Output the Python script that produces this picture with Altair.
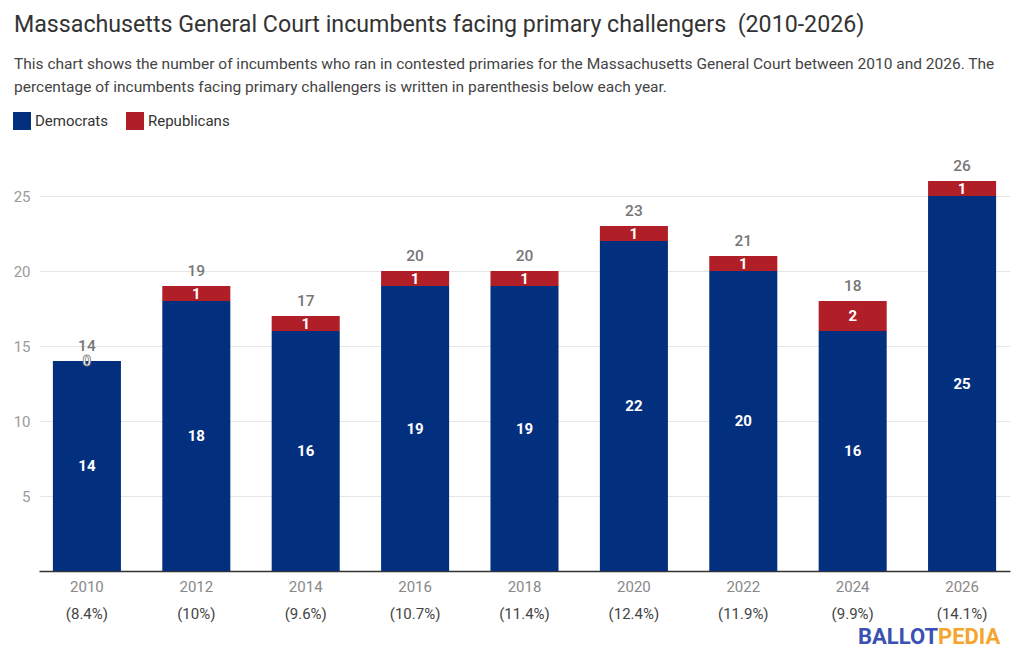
import altair as alt
import pandas as pd

years = ["2010", "2012", "2014", "2016", "2018", "2020", "2022", "2024", "2026"]
dems = [14, 18, 16, 19, 19, 22, 20, 16, 25]
reps = [0, 1, 1, 1, 1, 1, 1, 2, 1]
totals = [14, 19, 17, 20, 20, 23, 21, 18, 26]
pcts = ["(8.4%)", "(10%)", "(9.6%)", "(10.7%)", "(11.4%)", "(12.4%)", "(11.9%)", "(9.9%)", "(14.1%)"]
parties = ["Democrats", "Republicans"]
colors = ["#03307e", "#b01e28"]

title_text = "Massachusetts General Court incumbents facing primary challengers \u00a0(2010-2026)"
subtitle_lines = [
    "This chart shows the number of incumbents who ran in contested primaries for the Massachusetts General Court between 2010 and 2026. The",
    "percentage of incumbents facing primary challengers is written in parenthesis below each year.",
]

wide = pd.DataFrame({"year": years, "dem": dems, "rep": reps, "total": totals, "pct": pcts})
long = pd.DataFrame({
    "year": years * 2,
    "party": [parties[0]] * len(years) + [parties[1]] * len(years),
    "value": dems + reps,
    "ord": [0] * len(years) + [1] * len(years),
})

FONT = "Roboto"

x_enc = alt.X(
    "year:N",
    sort=years,
    scale=alt.Scale(paddingInner=0.378, paddingOuter=0.127),
    axis=alt.Axis(
        title=None, labelAngle=0, ticks=False, domainColor="#333333", domainWidth=1.5,
        labelColor="#888888", labelFontSize=15, labelPadding=8, labelFont=FONT,
    ),
)

bars = alt.Chart(long).mark_bar().encode(
    x=x_enc,
    y=alt.Y(
        "value:Q",
        stack="zero",
        scale=alt.Scale(domain=[0, 28], nice=False),
        axis=alt.Axis(
            title=None, values=[5, 10, 15, 20, 25], domain=False, ticks=False,
            gridColor="#e6e6e6", labelColor="#9a9a9a", labelFontSize=15, labelPadding=9,
            labelFont=FONT,
        ),
    ),
    color=alt.Color(
        "party:N",
        scale=alt.Scale(domain=parties, range=colors),
        legend=alt.Legend(
            title=None, orient="none", legendX=-26, legendY=-39, direction="horizontal",
            symbolType="square", symbolSize=324, symbolStrokeWidth=0, symbolOpacity=1,
            labelFontSize=15, labelColor="#333333", labelFont=FONT, labelOffset=4,
            columnPadding=18, padding=0,
        ),
    ),
    order=alt.Order("ord:Q", sort="ascending"),
)

base = alt.Chart(wide)

dem_labels = base.transform_calculate(mid="datum.dem / 2").mark_text(
    color="white", fontWeight="bold", fontSize=15, font=FONT, baseline="middle"
).encode(x=alt.X("year:N", sort=years), y="mid:Q", text="dem:Q")

rep_labels = base.transform_calculate(mid="datum.dem + datum.rep / 2").mark_text(
    color="white", fontWeight="bold", fontSize=15, font=FONT, baseline="middle", stroke="#777777"
).encode(
    x=alt.X("year:N", sort=years),
    y="mid:Q",
    text="rep:Q",
    strokeWidth=alt.condition("datum.rep == 0", alt.value(0.8), alt.value(0)),
)

total_labels = base.mark_text(
    color="#777777", fontSize=15.5, font=FONT, fontWeight=500, baseline="bottom", dy=-7
).encode(x=alt.X("year:N", sort=years), y="total:Q", text="total:Q")

pct_labels = base.mark_text(
    color="#444444", fontSize=15, font=FONT, baseline="middle"
).encode(x=alt.X("year:N", sort=years), y=alt.value(463), text="pct:N")

logo1 = alt.Chart(pd.DataFrame({"t": ["BALLOT"]})).mark_text(
    color="#3a51b3", fontSize=22, fontWeight="bold", font=FONT, align="left", baseline="middle"
).encode(x=alt.value(819), y=alt.value(486), text="t:N")

logo2 = alt.Chart(pd.DataFrame({"t": ["PEDIA"]})).mark_text(
    color="#f5a52e", fontSize=22, fontWeight="bold", font=FONT, align="left", baseline="middle"
).encode(x=alt.value(899), y=alt.value(486), text="t:N")

chart = alt.layer(
    bars, dem_labels, rep_labels, total_labels, pct_labels, logo1, logo2
).properties(
    width=971,
    height=420,
    title=alt.Title(
        text=title_text,
        subtitle=subtitle_lines,
        anchor="start",
        frame="group",
        dx=-25,
        dy=-2,
        offset=14,
        font=FONT,
        fontSize=23.2,
        fontWeight="normal",
        color="#333333",
        subtitleFont=FONT,
        subtitleFontSize=15.5,
        subtitleColor="#444444",
        subtitleLineHeight=23,
        subtitlePadding=19,
    ),
    autosize=alt.AutoSizeParams(type="none"),
    padding={"left": 31, "top": 143, "right": 6, "bottom": 84},
).configure(font=FONT).configure_view(stroke=None)

chart.save("out.html", embed_options={"renderer": "svg", "actions": False})
